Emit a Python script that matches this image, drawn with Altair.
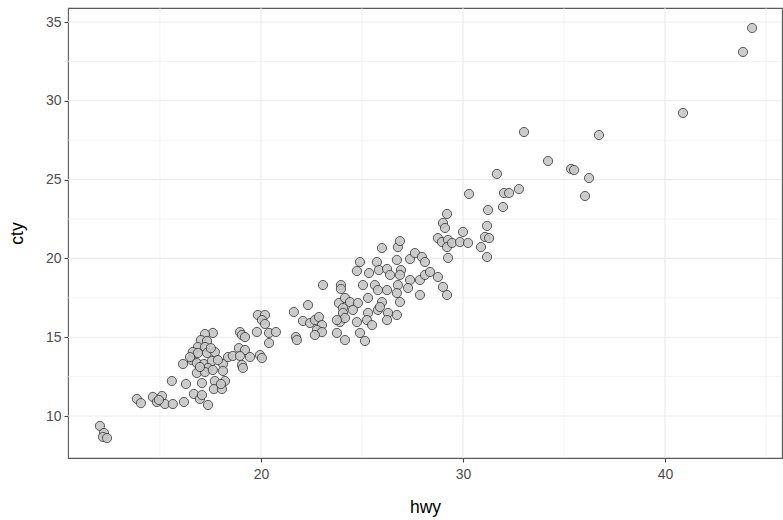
import altair as alt
import pandas as pd

hwy = [12.03, 12.23, 12.18, 12.38, 13.86, 14.06, 14.65, 14.85, 15.10, 15.25,
       15.64, 14.95, 15.59, 16.19, 16.68, 16.98, 17.08, 17.38, 16.29, 17.08,
       17.72, 18.22, 17.67, 18.07, 16.14, 16.58, 16.83, 17.18, 17.57, 17.38,
       18.12, 18.37, 16.83, 17.23, 17.62, 18.12, 17.62, 17.23, 17.03, 17.33,
       16.88, 17.23, 16.63, 16.88, 17.33, 17.72,
       16.49, 17.52, 17.87, 16.98, 18.02,
       19.85, 20.20, 20.05, 20.20, 19.80, 18.96, 19.06, 19.21, 20.40, 20.74,
       20.40, 18.91, 19.21, 18.61, 18.96, 19.46, 19.95, 19.06, 19.11, 20.05,
       21.63, 23.07, 23.96, 23.96, 22.33, 22.08, 22.43, 22.67, 22.87, 23.02,
       22.77, 23.02, 22.67, 21.73, 21.78, 23.76, 24.16, 23.86, 24.16, 24.06,
       24.06, 23.91, 24.16, 23.76,
       25.99, 26.78, 26.88, 24.90, 25.74, 26.73, 24.75, 25.35, 25.84, 26.24,
       26.39, 26.93, 26.88, 25.05, 25.64, 25.79, 26.24, 26.78, 26.73, 24.41,
       24.80, 25.30, 25.99, 26.88, 24.55, 25.30, 25.79, 26.29, 24.75, 25.25,
       26.24, 26.73, 25.50, 24.90, 25.15, 25.89,
       29.21, 29.01, 29.11, 30.00, 28.76, 28.96, 29.26, 29.21, 29.46, 29.85,
       30.25, 29.26, 27.38, 27.62, 27.97, 28.12, 27.38, 27.87, 28.12, 28.37,
       28.76, 29.01, 27.28, 27.87, 29.21,
       31.68, 30.30, 32.03, 32.28, 32.77, 31.24, 31.98, 31.19, 31.09, 31.29,
       30.89, 31.19, 44.31, 43.86, 40.89, 33.02, 36.73, 34.21, 35.35, 35.50,
       36.24, 36.04]
cty = [9.37, 8.92, 8.67, 8.60, 11.08, 10.82, 11.21, 10.89, 11.27, 10.76,
       10.76, 11.02, 12.22, 10.89, 11.40, 11.08, 11.33, 10.70, 12.03, 12.09,
       12.22, 12.22, 11.71, 11.71, 13.30, 13.55, 13.36, 13.30, 13.49, 13.05,
       13.30, 13.74, 12.73, 12.79, 12.92, 12.86, 15.27, 15.20, 14.82, 14.76,
       14.38, 14.38, 14.06, 14.00, 14.00, 14.06,
       13.74, 14.31, 13.55, 13.11, 12.03,
       16.41, 16.41, 16.09, 15.84, 15.33, 15.33, 15.14, 15.01, 15.27, 15.33,
       14.63, 14.31, 14.19, 13.81, 13.81, 13.74, 13.87, 13.24, 13.05, 13.68,
       16.60, 18.31, 18.31, 18.06, 17.04, 16.03, 15.90, 16.09, 16.28, 15.77,
       15.46, 15.33, 15.14, 15.01, 14.82, 15.27, 14.82, 17.17, 17.49, 16.85,
       16.54, 15.96, 16.22, 16.09,
       20.66, 20.72, 21.10, 19.77, 19.77, 19.90, 19.20, 19.07, 19.26, 19.33,
       18.95, 19.26, 18.95, 18.31, 18.31, 17.99, 17.99, 18.31, 17.80, 17.23,
       17.17, 17.49, 17.23, 17.23, 16.73, 16.54, 16.73, 16.54, 15.96, 16.09,
       16.09, 16.41, 15.77, 15.27, 14.76, 16.92,
       22.82, 22.25, 21.93, 21.68, 21.29, 21.04, 21.17, 20.72, 20.98, 21.04,
       20.98, 20.03, 19.96, 20.34, 20.09, 19.77, 18.63, 18.63, 18.95, 19.14,
       18.82, 18.19, 18.12, 17.68, 17.68,
       25.36, 24.09, 24.15, 24.15, 24.40, 23.07, 23.26, 22.06, 21.36, 21.29,
       20.72, 20.09, 34.62, 33.10, 29.23, 28.02, 27.83, 26.18, 25.68, 25.61,
       25.10, 23.96]

x_major = [20, 30, 40]
x_minor = [15, 25, 35, 45]
y_major = [10, 15, 20, 25, 30, 35]
y_minor = [12.5, 17.5, 22.5, 27.5, 32.5]

df = pd.DataFrame({"hwy": hwy, "cty": cty})

xs = alt.Scale(domain=[10.45, 45.79], nice=False, zero=False)
ys = alt.Scale(domain=[7.335, 35.89], nice=False, zero=False)

grid_col = "#EBEBEB"

axis_common = dict(
    grid=False, domain=False, ticks=True, tickColor="#444444", tickSize=4,
    tickWidth=1.1, labelColor="#4D4D4D", labelFontSize=14,
    labelFont="Liberation Sans", titleFont="Liberation Sans",
    titleFontSize=17.5, titleFontWeight="normal", titleColor="#000000",
)
xaxis = alt.Axis(values=x_major, labelPadding=5, titlePadding=17, **axis_common)
yaxis = alt.Axis(values=y_major, labelPadding=3, titlePadding=19, **axis_common)

vminor = alt.Chart(pd.DataFrame({"v": x_minor})).mark_rule(
    color=grid_col, strokeWidth=0.6).encode(
    x=alt.X("v:Q", scale=xs, title="hwy", axis=xaxis))
vmajor = alt.Chart(pd.DataFrame({"v": x_major})).mark_rule(
    color=grid_col, strokeWidth=1.1).encode(
    x=alt.X("v:Q", scale=xs, title="hwy", axis=xaxis))
hminor = alt.Chart(pd.DataFrame({"v": y_minor})).mark_rule(
    color=grid_col, strokeWidth=0.6).encode(
    y=alt.Y("v:Q", scale=ys, title="cty", axis=yaxis))
hmajor = alt.Chart(pd.DataFrame({"v": y_major})).mark_rule(
    color=grid_col, strokeWidth=1.1).encode(
    y=alt.Y("v:Q", scale=ys, title="cty", axis=yaxis))

points = alt.Chart(df).mark_point(
    shape="circle", filled=True, size=85, fill="#C6C6C6", fillOpacity=0.9,
    stroke="#2B2B2B", strokeWidth=0.75, opacity=1,
).encode(
    x=alt.X("hwy:Q", scale=xs, title="hwy", axis=xaxis),
    y=alt.Y("cty:Q", scale=ys, title="cty", axis=yaxis),
)

chart = alt.layer(hminor, vminor, hmajor, vmajor, points).properties(
    width=714, height=450,
    background="white",
    autosize=alt.AutoSizeParams(type="none"),
    padding={"left": 68, "top": 8, "right": 1, "bottom": 62},
).configure_view(
    stroke="#5A5A5A", strokeWidth=1.1, fill="white"
)

chart.save("out.html", embed_options={"renderer": "svg", "actions": False})
